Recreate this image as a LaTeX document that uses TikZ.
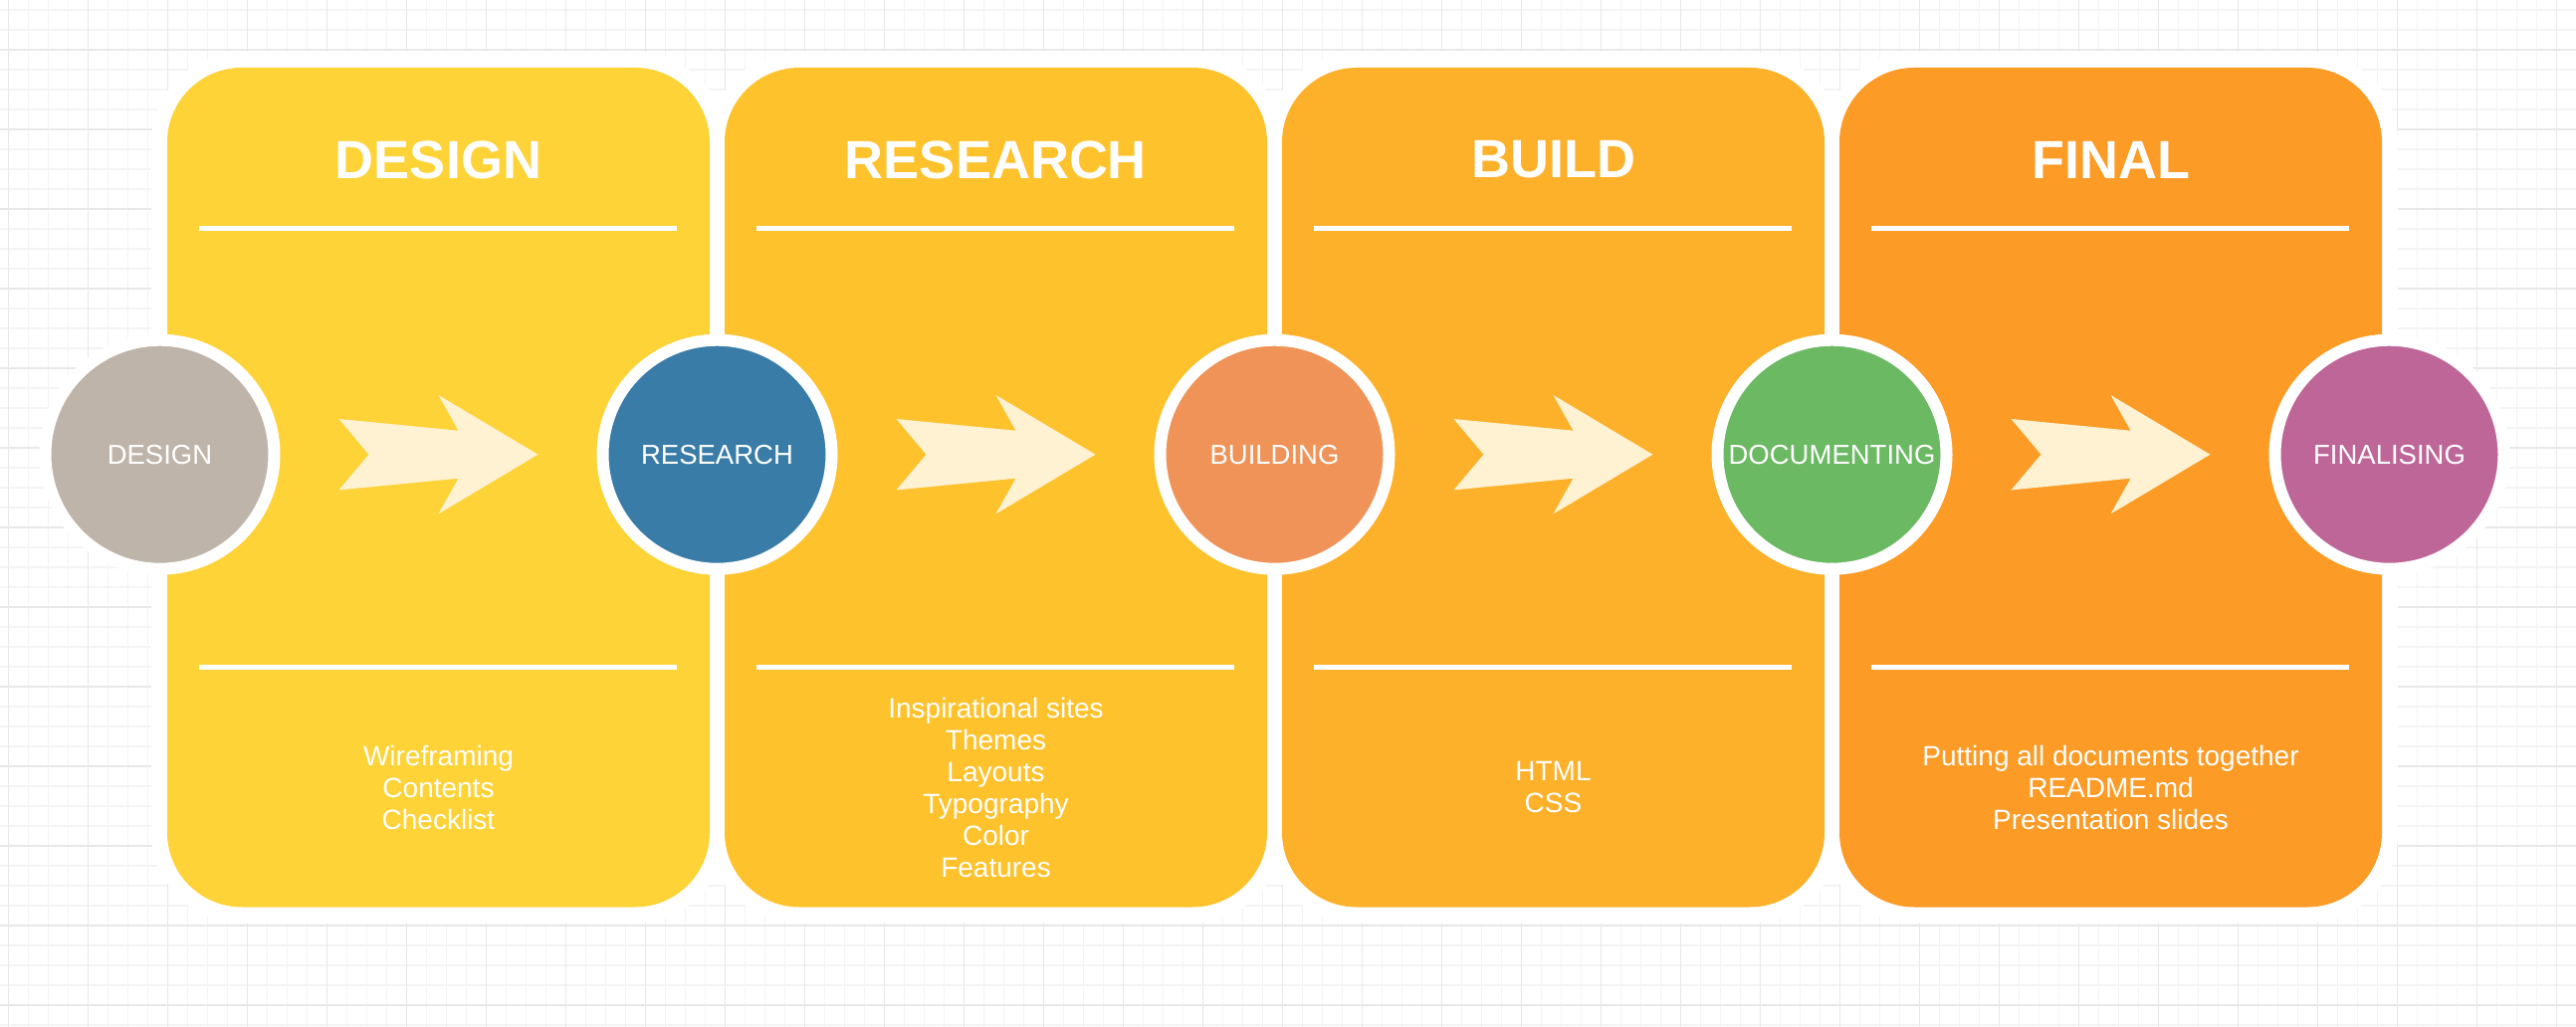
\documentclass[tikz,border=0pt]{standalone}
\usepackage{fontspec}
\setmainfont{Liberation Sans}
\definecolor{gridmajor}{HTML}{E8E8E8}
\definecolor{gridminor}{HTML}{F4F4F4}
\definecolor{cardA}{HTML}{FDD338}
\definecolor{cardB}{HTML}{FEC22D}
\definecolor{cardC}{HTML}{FDB12B}
\definecolor{cardD}{HTML}{FC9B26}
\definecolor{stoneC}{HTML}{BFB4A9}
\definecolor{blueC}{HTML}{3A7CA8}
\definecolor{salmonC}{HTML}{EF9358}
\definecolor{greenC}{HTML}{6BB963}
\definecolor{plumC}{HTML}{BF6699}
\definecolor{cream}{HTML}{FEF2D2}
\begin{document}
\begin{tikzpicture}[x=1pt,y=-1pt,
  halo/.style={rectangle, fill=white, inner sep=0pt, minimum width=577pt,
    minimum height=875.5pt, rounded corners=91pt},
  card/.style={rectangle, inner sep=0pt, minimum width=545pt,
    minimum height=843.5pt, rounded corners=75pt},
  stage/.style={circle, draw=white, line width=12pt, minimum size=230pt,
    inner sep=0pt, text=white, font=\fontsize{27.5}{32}\selectfont},
  heading/.style={inner sep=0pt, text=white, font=\fontsize{54}{60}\selectfont\bfseries},
  items/.style={inner sep=0pt, text=white, align=center, font=\fontsize{28}{32}\selectfont},
  rulebar/.style={white, line width=5pt},
  chevron/.pic={\fill[cream] (-100,-35.7) -- (20,-24) -- (0,-59.7) -- (100,0)
      -- (0,59.7) -- (20,24) -- (-100,35.7) -- (-70,0) -- cycle;}
]
\useasboundingbox (0,0) rectangle (2588,1032);
\fill[white] (0,0) rectangle (2588,1032);

% background grid: fine lines every 20, heavier lines every 80
\foreach \i in {0,...,129}
  \draw[gridminor, line width=1.5pt] ({8.7+20*\i},0) -- ({8.7+20*\i},1032);
\foreach \j in {0,...,51}
  \draw[gridminor, line width=1.5pt] (0,{10+20*\j}) -- (2588,{10+20*\j});
\foreach \i in {0,...,32}
  \draw[gridmajor, line width=1.5pt] ({8.7+80*\i},0) -- ({8.7+80*\i},1032);
\foreach \j in {0,...,12}
  \draw[gridmajor, line width=1.5pt] (0,{50+80*\j}) -- (2588,{50+80*\j});

% white surrounds of the cards
\node[halo] (h1) at (440.5,489.75) {};
\node[halo] (h2) at (1000.5,489.75) {};
\node[halo] (h3) at (1560.5,489.75) {};
\node[halo] (h4) at (2120.5,489.75) {};

% cards
\node[card, fill=cardA] (k1) at (440.5,489.75) {};
\node[card, fill=cardB] (k2) at (1000.5,489.75) {};
\node[card, fill=cardC] (k3) at (1560.5,489.75) {};
\node[card, fill=cardD] (k4) at (2120.5,489.75) {};

% titles, rules and item lists
\foreach \k in {k1,k2,k3,k4} {
  \draw[rulebar] ([shift={(-240.5,-260.15)}]\k.center) -- ([shift={(239.5,-260.15)}]\k.center);
  \draw[rulebar] ([shift={(-240.5,180.25)}]\k.center) -- ([shift={(239.5,180.25)}]\k.center);
}
\node[heading] (t1) at ([shift={(0,-329.25)}]k1.center) {DESIGN};
\node[heading] (t2) at ([shift={(0,-329.25)}]k2.center) {RESEARCH};
\node[heading] (t3) at ([shift={(0,-329.25)}]k3.center) {BUILD};
\node[heading] (t4) at ([shift={(0,-329.25)}]k4.center) {FINAL};

\node[items] (l1) at ([shift={(0,301.25)}]k1.center) {Wireframing\\Contents\\Checklist};
\node[items] (l2) at ([shift={(0,301.25)}]k2.center) {Inspirational sites\\Themes\\Layouts\\Typography\\Color\\Features};
\node[items] (l3) at ([shift={(0,301.25)}]k3.center) {HTML\\CSS};
\node[items] (l4) at ([shift={(0,301.25)}]k4.center) {Putting all documents together\\README.md\\Presentation slides};

% arrows between stages
\pic (a1) at (440.5,456.7) {chevron};
\pic (a2) at (1000.5,456.7) {chevron};
\pic (a3) at (1560.5,456.7) {chevron};
\pic (a4) at (2120.5,456.7) {chevron};

% stage discs
\node[stage, fill=stoneC] (s1) at (160.5,456.7) {DESIGN};
\node[stage, fill=blueC] (s2) at (720.5,456.7) {RESEARCH};
\node[stage, fill=salmonC] (s3) at (1280.5,456.7) {BUILDING};
\node[stage, fill=greenC] (s4) at (1840.5,456.7) {DOCUMENTING};
\node[stage, fill=plumC] (s5) at (2400.5,456.7) {FINALISING};
\end{tikzpicture}
\end{document}
